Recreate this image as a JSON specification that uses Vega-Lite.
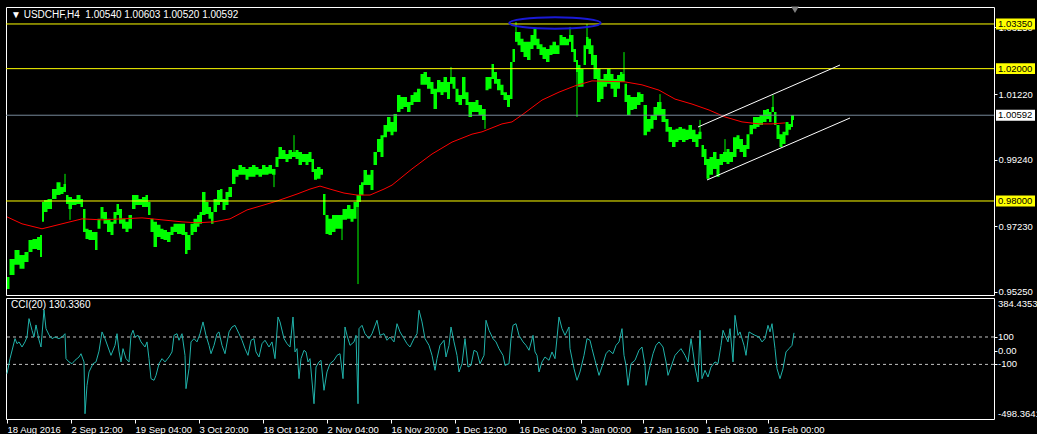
{
"$schema": "https://vega.github.io/schema/vega-lite/v6.json",
"background": "#000000",
"padding": {"left": 4, "top": 5, "right": 0, "bottom": 0},
"spacing": 3,
"bounds": "flush",
"config": {
  "view": {"stroke": "#ffffff", "strokeWidth": 1, "fill": "#000000"},
  "font": "Liberation Sans",
  "axis": {"labelFont": "Liberation Sans", "labelFontSize": 9.5, "labelColor": "#ffffff", "tickColor": "#ffffff", "domain": false, "grid": false, "title": null, "labelOverlap": false}
},
"resolve": {"scale": {"x": "independent", "y": "independent"}},
"datasets": {
"price": [
{"i":1,"lo":0.9534,"hi":0.9570},{"i":6,"lo":0.9576,"hi":0.9625},{"i":11,"lo":0.9607,"hi":0.9652},{"i":16,"lo":0.9595,"hi":0.9637},{"i":21,"lo":0.9616,"hi":0.9646},{"i":24,"lo":0.9646,"hi":0.9682},{"i":29,"lo":0.9655,"hi":0.9685},{"i":33,"lo":0.9652,"hi":0.9691},{"i":35,"lo":0.9631,"hi":0.9697},{"i":37,"lo":0.9737,"hi":0.9797},{"i":39,"lo":0.9767,"hi":0.9803},{"i":44,"lo":0.9776,"hi":0.9806},{"i":48,"lo":0.9806,"hi":0.9836},{"i":53,"lo":0.9818,"hi":0.9857},{"i":56,"lo":0.9821,"hi":0.9842},{"i":59,"lo":0.9827,"hi":0.9851},{"i":61,"lo":0.9791,"hi":0.9818},{"i":64,"lo":0.9776,"hi":0.9812},{"i":68,"lo":0.9788,"hi":0.9806},{"i":73,"lo":0.9791,"hi":0.9818},{"i":76,"lo":0.9782,"hi":0.9806},{"i":78,"lo":0.9706,"hi":0.9776},{"i":81,"lo":0.9685,"hi":0.9716},{"i":84,"lo":0.9682,"hi":0.9712},{"i":88,"lo":0.9682,"hi":0.9706},{"i":90,"lo":0.9652,"hi":0.9706},{"i":93,"lo":0.9716,"hi":0.9746},{"i":96,"lo":0.9746,"hi":0.9782},{"i":99,"lo":0.9731,"hi":0.9767},{"i":103,"lo":0.9706,"hi":0.9746},{"i":106,"lo":0.9697,"hi":0.9737},{"i":109,"lo":0.9731,"hi":0.9767},{"i":112,"lo":0.9758,"hi":0.9791},{"i":114,"lo":0.9731,"hi":0.9776},{"i":118,"lo":0.9716,"hi":0.9746},{"i":121,"lo":0.9706,"hi":0.9737},{"i":124,"lo":0.9716,"hi":0.9758},{"i":128,"lo":0.9776,"hi":0.9818},{"i":131,"lo":0.9788,"hi":0.9818},{"i":134,"lo":0.9788,"hi":0.9806},{"i":138,"lo":0.9782,"hi":0.9812},{"i":141,"lo":0.9782,"hi":0.9818},{"i":143,"lo":0.9758,"hi":0.9797},{"i":146,"lo":0.9706,"hi":0.9746},{"i":149,"lo":0.9661,"hi":0.9737},{"i":153,"lo":0.9691,"hi":0.9728},{"i":156,"lo":0.9685,"hi":0.9716},{"i":159,"lo":0.9682,"hi":0.9712},{"i":163,"lo":0.9676,"hi":0.9706},{"i":166,"lo":0.9697,"hi":0.9722},{"i":169,"lo":0.9706,"hi":0.9731},{"i":173,"lo":0.9700,"hi":0.9731},{"i":178,"lo":0.9697,"hi":0.9731},{"i":180,"lo":0.9640,"hi":0.9706},{"i":183,"lo":0.9652,"hi":0.9697},{"i":186,"lo":0.9697,"hi":0.9731},{"i":189,"lo":0.9706,"hi":0.9746},{"i":193,"lo":0.9722,"hi":0.9758},{"i":194,"lo":0.9731,"hi":0.9767},{"i":198,"lo":0.9758,"hi":0.9827},{"i":201,"lo":0.9761,"hi":0.9797},{"i":204,"lo":0.9746,"hi":0.9782},{"i":206,"lo":0.9731,"hi":0.9767},{"i":209,"lo":0.9767,"hi":0.9806},{"i":213,"lo":0.9788,"hi":0.9833},{"i":215,"lo":0.9797,"hi":0.9836},{"i":218,"lo":0.9773,"hi":0.9806},{"i":221,"lo":0.9788,"hi":0.9827},{"i":224,"lo":0.9812,"hi":0.9842},{"i":228,"lo":0.9851,"hi":0.9897},{"i":231,"lo":0.9873,"hi":0.9894},{"i":234,"lo":0.9879,"hi":0.9909},{"i":238,"lo":0.9879,"hi":0.9903},{"i":241,"lo":0.9864,"hi":0.9897},{"i":244,"lo":0.9873,"hi":0.9903},{"i":248,"lo":0.9873,"hi":0.9909},{"i":251,"lo":0.9879,"hi":0.9903},{"i":254,"lo":0.9873,"hi":0.9897},{"i":258,"lo":0.9879,"hi":0.9909},{"i":261,"lo":0.9879,"hi":0.9903},{"i":264,"lo":0.9882,"hi":0.9909},{"i":268,"lo":0.9879,"hi":0.9897},{"i":271,"lo":0.9903,"hi":0.9933},{"i":274,"lo":0.9927,"hi":0.9963},{"i":278,"lo":0.9927,"hi":0.9954},{"i":281,"lo":0.9918,"hi":0.9942},{"i":284,"lo":0.9927,"hi":0.9954},{"i":288,"lo":0.9933,"hi":0.9948},{"i":291,"lo":0.9927,"hi":0.9954},{"i":294,"lo":0.9909,"hi":0.9948},{"i":298,"lo":0.9918,"hi":0.9942},{"i":301,"lo":0.9909,"hi":0.9942},{"i":304,"lo":0.9918,"hi":0.9948},{"i":307,"lo":0.9888,"hi":0.9927},{"i":309,"lo":0.9864,"hi":0.9897},{"i":313,"lo":0.9867,"hi":0.9903},{"i":316,"lo":0.9879,"hi":0.9897},{"i":318,"lo":0.9758,"hi":0.9821},{"i":321,"lo":0.9700,"hi":0.9758},{"i":324,"lo":0.9697,"hi":0.9746},{"i":328,"lo":0.9706,"hi":0.9758},{"i":331,"lo":0.9716,"hi":0.9758},{"i":334,"lo":0.9716,"hi":0.9758},{"i":339,"lo":0.9743,"hi":0.9776},{"i":343,"lo":0.9746,"hi":0.9788},{"i":346,"lo":0.9737,"hi":0.9776},{"i":349,"lo":0.9746,"hi":0.9797},{"i":352,"lo":0.9782,"hi":0.9818},{"i":354,"lo":0.9797,"hi":0.9848},{"i":356,"lo":0.9818,"hi":0.9857},{"i":359,"lo":0.9848,"hi":0.9894},{"i":363,"lo":0.9848,"hi":0.9879},{"i":366,"lo":0.9833,"hi":0.9894},{"i":369,"lo":0.9909,"hi":0.9948},{"i":373,"lo":0.9948,"hi":0.9987},{"i":376,"lo":0.9933,"hi":0.9999},{"i":379,"lo":0.9993,"hi":1.0030},{"i":383,"lo":1.0009,"hi":1.0054},{"i":386,"lo":0.9999,"hi":1.0039},{"i":389,"lo":1.0009,"hi":1.0063},{"i":393,"lo":1.0069,"hi":1.0120},{"i":396,"lo":1.0078,"hi":1.0114},{"i":399,"lo":1.0084,"hi":1.0114},{"i":403,"lo":1.0069,"hi":1.0099},{"i":406,"lo":1.0090,"hi":1.0120},{"i":409,"lo":1.0099,"hi":1.0129},{"i":413,"lo":1.0099,"hi":1.0139},{"i":416,"lo":1.0151,"hi":1.0184},{"i":419,"lo":1.0151,"hi":1.0190},{"i":423,"lo":1.0139,"hi":1.0175},{"i":426,"lo":1.0123,"hi":1.0160},{"i":429,"lo":1.0078,"hi":1.0139},{"i":433,"lo":1.0129,"hi":1.0166},{"i":436,"lo":1.0120,"hi":1.0160},{"i":439,"lo":1.0129,"hi":1.0175},{"i":443,"lo":1.0108,"hi":1.0160},{"i":445,"lo":1.0154,"hi":1.0175},{"i":448,"lo":1.0139,"hi":1.0175},{"i":451,"lo":1.0099,"hi":1.0139},{"i":454,"lo":1.0090,"hi":1.0120},{"i":458,"lo":1.0108,"hi":1.0175},{"i":461,"lo":1.0090,"hi":1.0129},{"i":464,"lo":1.0054,"hi":1.0099},{"i":468,"lo":1.0069,"hi":1.0099},{"i":471,"lo":1.0069,"hi":1.0105},{"i":474,"lo":1.0060,"hi":1.0090},{"i":478,"lo":1.0045,"hi":1.0078},{"i":481,"lo":1.0135,"hi":1.0175},{"i":484,"lo":1.0139,"hi":1.0175},{"i":487,"lo":1.0169,"hi":1.0214},{"i":489,"lo":1.0154,"hi":1.0190},{"i":493,"lo":1.0135,"hi":1.0169},{"i":496,"lo":1.0120,"hi":1.0151},{"i":499,"lo":1.0105,"hi":1.0129},{"i":503,"lo":1.0084,"hi":1.0120},{"i":505,"lo":1.0108,"hi":1.0220},{"i":508,"lo":1.0220,"hi":1.0259},{"i":510,"lo":1.0281,"hi":1.0311},{"i":513,"lo":1.0271,"hi":1.0311},{"i":516,"lo":1.0250,"hi":1.0290},{"i":519,"lo":1.0235,"hi":1.0281},{"i":523,"lo":1.0226,"hi":1.0281},{"i":526,"lo":1.0259,"hi":1.0302},{"i":529,"lo":1.0271,"hi":1.0320},{"i":532,"lo":1.0259,"hi":1.0290},{"i":535,"lo":1.0241,"hi":1.0274},{"i":538,"lo":1.0229,"hi":1.0265},{"i":542,"lo":1.0220,"hi":1.0259},{"i":545,"lo":1.0241,"hi":1.0271},{"i":548,"lo":1.0244,"hi":1.0281},{"i":552,"lo":1.0244,"hi":1.0271},{"i":555,"lo":1.0271,"hi":1.0302},{"i":558,"lo":1.0271,"hi":1.0296},{"i":562,"lo":1.0271,"hi":1.0290},{"i":564,"lo":1.0281,"hi":1.0302},{"i":566,"lo":1.0250,"hi":1.0302},{"i":569,"lo":1.0220,"hi":1.0259},{"i":571,"lo":1.0190,"hi":1.0226},{"i":573,"lo":1.0145,"hi":1.0211},{"i":576,"lo":1.0145,"hi":1.0199},{"i":579,"lo":1.0211,"hi":1.0271},{"i":581,"lo":1.0259,"hi":1.0296},{"i":584,"lo":1.0244,"hi":1.0290},{"i":586,"lo":1.0211,"hi":1.0271},{"i":589,"lo":1.0169,"hi":1.0241},{"i":593,"lo":1.0099,"hi":1.0199},{"i":596,"lo":1.0108,"hi":1.0169},{"i":599,"lo":1.0145,"hi":1.0184},{"i":603,"lo":1.0154,"hi":1.0199},{"i":606,"lo":1.0139,"hi":1.0184},{"i":609,"lo":1.0114,"hi":1.0169},{"i":613,"lo":1.0139,"hi":1.0181},{"i":615,"lo":1.0160,"hi":1.0190},{"i":618,"lo":1.0160,"hi":1.0184},{"i":619,"lo":1.0099,"hi":1.0154},{"i":623,"lo":1.0060,"hi":1.0120},{"i":626,"lo":1.0075,"hi":1.0114},{"i":629,"lo":1.0078,"hi":1.0114},{"i":633,"lo":1.0090,"hi":1.0129},{"i":636,"lo":1.0099,"hi":1.0123},{"i":639,"lo":0.9999,"hi":1.0090},{"i":643,"lo":1.0009,"hi":1.0048},{"i":646,"lo":1.0018,"hi":1.0060},{"i":649,"lo":1.0045,"hi":1.0084},{"i":653,"lo":1.0060,"hi":1.0099},{"i":658,"lo":1.0039,"hi":1.0078},{"i":661,"lo":1.0009,"hi":1.0048},{"i":664,"lo":0.9978,"hi":1.0024},{"i":668,"lo":0.9963,"hi":1.0015},{"i":671,"lo":0.9978,"hi":1.0018},{"i":674,"lo":0.9984,"hi":1.0024},{"i":678,"lo":0.9978,"hi":1.0018},{"i":681,"lo":0.9984,"hi":1.0015},{"i":684,"lo":0.9987,"hi":1.0030},{"i":688,"lo":0.9978,"hi":1.0015},{"i":691,"lo":0.9963,"hi":1.0002},{"i":694,"lo":0.9987,"hi":1.0009},{"i":697,"lo":0.9933,"hi":0.9969},{"i":699,"lo":0.9909,"hi":0.9957},{"i":702,"lo":0.9867,"hi":0.9927},{"i":705,"lo":0.9879,"hi":0.9933},{"i":709,"lo":0.9897,"hi":0.9948},{"i":712,"lo":0.9873,"hi":0.9927},{"i":715,"lo":0.9909,"hi":0.9942},{"i":719,"lo":0.9918,"hi":0.9948},{"i":722,"lo":0.9912,"hi":0.9957},{"i":725,"lo":0.9918,"hi":0.9948},{"i":729,"lo":0.9933,"hi":0.9993},{"i":732,"lo":0.9957,"hi":0.9999},{"i":735,"lo":0.9948,"hi":0.9987},{"i":739,"lo":0.9933,"hi":0.9969},{"i":742,"lo":0.9957,"hi":1.0002},{"i":745,"lo":1.0002,"hi":1.0030},{"i":749,"lo":1.0018,"hi":1.0054},{"i":752,"lo":1.0024,"hi":1.0054},{"i":755,"lo":1.0030,"hi":1.0060},{"i":759,"lo":1.0039,"hi":1.0075},{"i":762,"lo":1.0048,"hi":1.0078},{"i":764,"lo":1.0039,"hi":1.0069},{"i":767,"lo":1.0069,"hi":1.0084},{"i":769,"lo":1.0030,"hi":1.0069},{"i":772,"lo":0.9987,"hi":1.0030},{"i":775,"lo":0.9963,"hi":1.0002},{"i":778,"lo":0.9972,"hi":1.0009},{"i":781,"lo":0.9999,"hi":1.0039},{"i":784,"lo":1.0015,"hi":1.0033},{"i":786,"lo":1.0024,"hi":1.0060},{"i":788,"lo":1.0045,"hi":1.0060}
],
"wick": [
{"i":59,"lo":0.9827,"hi":0.9882},{"i":64,"lo":0.9743,"hi":0.9812},{"i":268,"lo":0.9842,"hi":0.9897},{"i":288,"lo":0.9933,"hi":0.9999},{"i":336,"lo":0.9682,"hi":0.9758},{"i":352,"lo":0.9549,"hi":0.9818},{"i":445,"lo":1.0154,"hi":1.0205},{"i":479,"lo":1.0018,"hi":1.0078},{"i":510,"lo":1.0281,"hi":1.0341},{"i":564,"lo":1.0281,"hi":1.0326},{"i":571,"lo":1.0054,"hi":1.0226},{"i":581,"lo":1.0259,"hi":1.0335},{"i":618,"lo":1.0160,"hi":1.0250},{"i":654,"lo":1.0060,"hi":1.0123},{"i":694,"lo":0.9987,"hi":1.0045},{"i":719,"lo":0.9918,"hi":0.9987},{"i":767,"lo":1.0069,"hi":1.0120}
],
"ma": [
{"i":1,"ma":0.9752},{"i":16,"ma":0.9731},{"i":36,"ma":0.9716},{"i":56,"ma":0.9731},{"i":76,"ma":0.9746},{"i":96,"ma":0.9743},{"i":116,"ma":0.9746},{"i":136,"ma":0.9749},{"i":156,"ma":0.9743},{"i":176,"ma":0.9737},{"i":191,"ma":0.9734},{"i":208,"ma":0.9737},{"i":224,"ma":0.9746},{"i":241,"ma":0.9773},{"i":258,"ma":0.9788},{"i":271,"ma":0.9800},{"i":291,"ma":0.9821},{"i":304,"ma":0.9836},{"i":314,"ma":0.9845},{"i":324,"ma":0.9836},{"i":338,"ma":0.9824},{"i":351,"ma":0.9818},{"i":364,"ma":0.9818},{"i":378,"ma":0.9836},{"i":386,"ma":0.9848},{"i":406,"ma":0.9897},{"i":426,"ma":0.9942},{"i":446,"ma":0.9978},{"i":466,"ma":1.0002},{"i":476,"ma":1.0009},{"i":496,"ma":1.0033},{"i":506,"ma":1.0039},{"i":516,"ma":1.0060},{"i":536,"ma":1.0105},{"i":553,"ma":1.0129},{"i":569,"ma":1.0148},{"i":586,"ma":1.0163},{"i":619,"ma":1.0160},{"i":636,"ma":1.0151},{"i":653,"ma":1.0135},{"i":669,"ma":1.0108},{"i":686,"ma":1.0093},{"i":703,"ma":1.0075},{"i":719,"ma":1.0054},{"i":736,"ma":1.0039},{"i":753,"ma":1.0033},{"i":766,"ma":1.0033},{"i":779,"ma":1.0036}
],
"levels": [
{"p":1.0335,"k":"level","t":"1.03350"},{"p":1.02,"k":"level","t":"1.02000"},{"p":0.98,"k":"level","t":"0.98000"},{"p":1.00592,"k":"bid","t":"1.00592"}
],
"channel": [
{"ch":"upper","i":692,"p":1.00236},{"ch":"upper","i":834,"p":1.0211},{"ch":"lower","i":701,"p":0.98635},{"ch":"lower","i":844,"p":1.00508}
],
"ellipse": [{"i":549,"p":1.0338}],
"shift": [{"i":789,"p":1.0378}],
"header": [{"i":5,"p":1.0362,"t":"▼ USDCHF,H4\u00a0\u00a01.00540 1.00603 1.00520 1.00592"}],
"ccilabel": [{"i":5,"v":334,"t":"CCI(20) 130.3360"}],
"ccilevels": [{"v":100},{"v":-100}],
"ccimid": [{"v":100,"t":"100"},{"v":0,"t":"0.00"},{"v":-100,"t":"-100"}],
"ccitop": [{"v":384.4353,"t":"384.4353"}],
"ccibot": [{"v":-498.3641,"t":"-498.3641"}],
"cci": [
{"i":1,"v":-168},{"i":4,"v":-58},{"i":9,"v":88},{"i":11,"v":51},{"i":13,"v":64},{"i":16,"v":27},{"i":19,"v":64},{"i":21,"v":100},{"i":23,"v":234},{"i":26,"v":149},{"i":28,"v":100},{"i":30,"v":188},{"i":33,"v":78},{"i":35,"v":27},{"i":38,"v":297},{"i":40,"v":161},{"i":43,"v":115},{"i":46,"v":88},{"i":49,"v":100},{"i":53,"v":88},{"i":56,"v":100},{"i":59,"v":124},{"i":60,"v":-58},{"i":63,"v":-82},{"i":66,"v":-95},{"i":69,"v":-70},{"i":73,"v":-46},{"i":75,"v":-22},{"i":78,"v":-82},{"i":79,"v":-460},{"i":81,"v":-253},{"i":83,"v":-155},{"i":87,"v":-95},{"i":90,"v":-82},{"i":93,"v":-3},{"i":96,"v":137},{"i":99,"v":88},{"i":102,"v":27},{"i":105,"v":-34},{"i":109,"v":39},{"i":111,"v":124},{"i":113,"v":-3},{"i":115,"v":-82},{"i":117,"v":15},{"i":120,"v":-58},{"i":123,"v":-82},{"i":125,"v":112},{"i":127,"v":149},{"i":129,"v":100},{"i":132,"v":112},{"i":135,"v":64},{"i":139,"v":27},{"i":141,"v":64},{"i":143,"v":-58},{"i":145,"v":-204},{"i":148,"v":-216},{"i":150,"v":-180},{"i":153,"v":-95},{"i":156,"v":-58},{"i":159,"v":-82},{"i":163,"v":-46},{"i":166,"v":-9},{"i":168,"v":112},{"i":171,"v":124},{"i":173,"v":76},{"i":176,"v":124},{"i":179,"v":-34},{"i":180,"v":-277},{"i":183,"v":-131},{"i":185,"v":64},{"i":188,"v":88},{"i":191,"v":64},{"i":194,"v":124},{"i":197,"v":210},{"i":200,"v":112},{"i":203,"v":39},{"i":205,"v":-22},{"i":208,"v":39},{"i":211,"v":124},{"i":213,"v":137},{"i":216,"v":39},{"i":219,"v":-22},{"i":223,"v":137},{"i":226,"v":173},{"i":229,"v":185},{"i":233,"v":124},{"i":236,"v":76},{"i":239,"v":15},{"i":242,"v":-34},{"i":245,"v":76},{"i":248,"v":88},{"i":250,"v":-9},{"i":253,"v":-46},{"i":256,"v":51},{"i":259,"v":76},{"i":263,"v":27},{"i":266,"v":64},{"i":269,"v":-58},{"i":272,"v":246},{"i":274,"v":210},{"i":278,"v":88},{"i":281,"v":51},{"i":284,"v":27},{"i":287,"v":246},{"i":289,"v":-9},{"i":291,"v":15},{"i":293,"v":-204},{"i":295,"v":-58},{"i":298,"v":3},{"i":300,"v":-9},{"i":302,"v":-82},{"i":304,"v":-58},{"i":308,"v":-387},{"i":310,"v":-119},{"i":313,"v":-82},{"i":315,"v":-70},{"i":318,"v":-289},{"i":321,"v":-155},{"i":324,"v":-95},{"i":328,"v":-70},{"i":331,"v":-34},{"i":334,"v":-22},{"i":337,"v":-204},{"i":339,"v":173},{"i":341,"v":112},{"i":344,"v":39},{"i":348,"v":64},{"i":350,"v":112},{"i":352,"v":-387},{"i":353,"v":161},{"i":356,"v":185},{"i":359,"v":124},{"i":363,"v":88},{"i":366,"v":124},{"i":371,"v":222},{"i":374,"v":112},{"i":378,"v":124},{"i":381,"v":76},{"i":384,"v":100},{"i":388,"v":64},{"i":391,"v":197},{"i":394,"v":137},{"i":398,"v":88},{"i":401,"v":51},{"i":404,"v":27},{"i":408,"v":88},{"i":411,"v":124},{"i":413,"v":295},{"i":416,"v":210},{"i":419,"v":88},{"i":423,"v":39},{"i":426,"v":-34},{"i":429,"v":-143},{"i":431,"v":-58},{"i":434,"v":39},{"i":438,"v":76},{"i":440,"v":-46},{"i":443,"v":39},{"i":445,"v":173},{"i":448,"v":64},{"i":451,"v":-34},{"i":453,"v":-155},{"i":456,"v":-95},{"i":459,"v":88},{"i":462,"v":-119},{"i":465,"v":-107},{"i":468,"v":3},{"i":471,"v":-9},{"i":474,"v":-95},{"i":478,"v":-34},{"i":480,"v":222},{"i":483,"v":149},{"i":487,"v":88},{"i":490,"v":64},{"i":493,"v":15},{"i":497,"v":-34},{"i":499,"v":-107},{"i":503,"v":-95},{"i":505,"v":88},{"i":507,"v":185},{"i":510,"v":197},{"i":513,"v":112},{"i":517,"v":64},{"i":520,"v":39},{"i":523,"v":3},{"i":527,"v":112},{"i":529,"v":-9},{"i":531,"v":-34},{"i":533,"v":-155},{"i":536,"v":-82},{"i":539,"v":-46},{"i":543,"v":-70},{"i":546,"v":-9},{"i":549,"v":-58},{"i":553,"v":246},{"i":556,"v":161},{"i":559,"v":112},{"i":563,"v":173},{"i":564,"v":15},{"i":568,"v":-131},{"i":571,"v":-216},{"i":574,"v":-155},{"i":578,"v":-34},{"i":581,"v":88},{"i":584,"v":76},{"i":586,"v":15},{"i":589,"v":-70},{"i":593,"v":-180},{"i":597,"v":-95},{"i":600,"v":-22},{"i":603,"v":3},{"i":607,"v":-22},{"i":610,"v":39},{"i":613,"v":64},{"i":616,"v":161},{"i":618,"v":-34},{"i":620,"v":-107},{"i":622,"v":-253},{"i":625,"v":-95},{"i":629,"v":-70},{"i":633,"v":3},{"i":636,"v":27},{"i":639,"v":-107},{"i":640,"v":-253},{"i":643,"v":-143},{"i":647,"v":-22},{"i":650,"v":39},{"i":653,"v":64},{"i":657,"v":27},{"i":660,"v":-82},{"i":662,"v":-180},{"i":665,"v":-119},{"i":669,"v":-34},{"i":672,"v":-9},{"i":675,"v":15},{"i":679,"v":-34},{"i":682,"v":-82},{"i":685,"v":88},{"i":687,"v":-9},{"i":689,"v":-119},{"i":692,"v":-228},{"i":694,"v":149},{"i":696,"v":-204},{"i":699,"v":-143},{"i":702,"v":-192},{"i":705,"v":-119},{"i":709,"v":-82},{"i":712,"v":-95},{"i":715,"v":39},{"i":717,"v":149},{"i":719,"v":112},{"i":722,"v":64},{"i":724,"v":161},{"i":727,"v":-82},{"i":729,"v":258},{"i":732,"v":112},{"i":734,"v":137},{"i":738,"v":39},{"i":740,"v":-34},{"i":743,"v":137},{"i":746,"v":124},{"i":749,"v":112},{"i":753,"v":100},{"i":756,"v":64},{"i":759,"v":88},{"i":762,"v":185},{"i":764,"v":137},{"i":766,"v":197},{"i":769,"v":15},{"i":771,"v":-131},{"i":774,"v":-204},{"i":777,"v":-131},{"i":780,"v":-9},{"i":783,"v":15},{"i":786,"v":39},{"i":788,"v":130}
]
},
"vconcat": [
{
  "width": 988,
  "height": 288,
  "resolve": {"scale": {"color": "independent"}},
  "layer": [
    {
      "data": {"name": "price"},
      "mark": {"type": "area", "color": "#00ff00", "opacity": 1, "interpolate": "step"},
      "encoding": {
        "x": {"field": "i", "type": "quantitative", "scale": {"domain": [0, 988], "nice": false, "zero": false}, "axis": null},
        "y": {"field": "lo", "type": "quantitative", "scale": {"domain": [0.95159, 1.03863], "nice": false, "zero": false},
              "axis": {"orient": "right", "values": [1.0325, 1.0221, 1.0122, 1.0023, 0.9924, 0.9822, 0.9723, 0.9624, 0.9525], "format": ".5f", "tickSize": 3, "labelPadding": 1, "labelOverlap": false}},
        "y2": {"field": "hi"}
      }
    },
    {
      "data": {"name": "wick"},
      "mark": {"type": "rule", "color": "#00ff00", "strokeWidth": 1},
      "encoding": {
        "x": {"field": "i", "type": "quantitative", "axis": null},
        "y": {"field": "lo", "type": "quantitative"},
        "y2": {"field": "hi"}
      }
    },
    {
      "data": {"name": "ma"},
      "mark": {"type": "line", "color": "#ff0000", "strokeWidth": 1},
      "encoding": {
        "x": {"field": "i", "type": "quantitative", "axis": null},
        "y": {"field": "ma", "type": "quantitative"}
      }
    },
    {
      "data": {"name": "levels"},
      "mark": {"type": "rule", "strokeWidth": 1},
      "encoding": {
        "y": {"field": "p", "type": "quantitative"},
        "color": {"field": "k", "type": "nominal", "scale": {"domain": ["level", "bid"], "range": ["#ffff00", "#778899"]}, "legend": null}
      }
    },
    {
      "data": {"name": "channel"},
      "mark": {"type": "line", "color": "#ffffff", "strokeWidth": 1},
      "encoding": {
        "x": {"field": "i", "type": "quantitative", "axis": null},
        "y": {"field": "p", "type": "quantitative"},
        "detail": {"field": "ch"}
      }
    },
    {
      "data": {"name": "ellipse"},
      "mark": {"type": "point", "filled": false, "stroke": "#1a1ad6", "strokeWidth": 2, "opacity": 1,
               "shape": "M -1 0 C -1 -0.069 -0.5523 -0.125 0 -0.125 C 0.5523 -0.125 1 -0.069 1 0 C 1 0.069 0.5523 0.125 0 0.125 C -0.5523 0.125 -1 0.069 -1 0 Z",
               "size": 8372},
      "encoding": {
        "x": {"field": "i", "type": "quantitative", "axis": null},
        "y": {"field": "p", "type": "quantitative"}
      }
    },
    {
      "data": {"name": "shift"},
      "mark": {"type": "point", "shape": "triangle-down", "filled": true, "color": "#808080", "size": 60, "opacity": 1},
      "encoding": {
        "x": {"field": "i", "type": "quantitative", "axis": null},
        "y": {"field": "p", "type": "quantitative"}
      }
    },
    {
      "data": {"name": "levels"},
      "mark": {"type": "point", "filled": true, "opacity": 1, "shape": "M -1 -0.28 L 1 -0.28 L 1 0.28 L -1 0.28 Z", "size": 1521},
      "encoding": {
        "x": {"datum": 1009.5, "type": "quantitative", "axis": null},
        "y": {"field": "p", "type": "quantitative"},
        "fill": {"field": "t", "type": "nominal", "scale": {"domain": ["1.03350", "1.02000", "0.98000", "1.00592"], "range": ["#ffff00", "#ffff00", "#ffff00", "#ffffff"]}, "legend": null}
      }
    },
    {
      "data": {"name": "levels"},
      "mark": {"type": "text", "align": "left", "baseline": "middle", "fontSize": 9.5, "font": "Liberation Sans", "color": "#000000"},
      "encoding": {
        "x": {"datum": 992, "type": "quantitative", "axis": null},
        "y": {"field": "p", "type": "quantitative"},
        "text": {"field": "t"}
      }
    },
    {
      "data": {"name": "header"},
      "mark": {"type": "text", "align": "left", "baseline": "middle", "fontSize": 10, "font": "Liberation Sans", "color": "#ffffff"},
      "encoding": {
        "x": {"field": "i", "type": "quantitative", "axis": null},
        "y": {"field": "p", "type": "quantitative"},
        "text": {"field": "t"}
      }
    }
  ]
},
{
  "width": 988,
  "height": 121,
  "layer": [
    {
      "data": {"name": "ccilevels"},
      "mark": {"type": "rule", "color": "#c0c0c0", "strokeWidth": 1, "strokeDash": [3, 3]},
      "encoding": {
        "y": {"field": "v", "type": "quantitative", "scale": {"domain": [-498.3641, 384.4353], "nice": false, "zero": false},
              "axis": {"orient": "right", "values": [100, 0, -100], "labels": false, "tickSize": 3}}
      }
    },
    {
      "data": {"name": "cci"},
      "mark": {"type": "line", "color": "#20b2aa", "strokeWidth": 1},
      "encoding": {
        "x": {"field": "i", "type": "quantitative", "scale": {"domain": [0, 988], "nice": false, "zero": false},
              "axis": {"orient": "bottom", "values": [1, 65, 129, 193, 257, 321, 385, 449, 513, 575, 637, 700, 762],
                       "labelExpr": "['18 Aug 2016','2 Sep 12:00','19 Sep 04:00','3 Oct 20:00','18 Oct 12:00','2 Nov 04:00','16 Nov 20:00','1 Dec 12:00','16 Dec 04:00','3 Jan 00:00','17 Jan 16:00','1 Feb 08:00','16 Feb 00:00'][indexof([1,65,129,193,257,321,385,449,513,575,637,700,762], datum.value)]",
                       "labelAlign": "left", "labelFlush": false, "labelBound": false, "labelOverlap": false, "tickSize": 4, "labelPadding": 1}},
        "y": {"field": "v", "type": "quantitative"}
      }
    },
    {
      "data": {"name": "ccimid"},
      "mark": {"type": "text", "align": "left", "baseline": "middle", "fontSize": 9.5, "font": "Liberation Sans", "color": "#ffffff"},
      "encoding": {
        "x": {"datum": 992, "type": "quantitative"},
        "y": {"field": "v", "type": "quantitative"},
        "text": {"field": "t"}
      }
    },
    {
      "data": {"name": "ccitop"},
      "mark": {"type": "text", "align": "left", "baseline": "top", "dy": 1, "fontSize": 9.5, "font": "Liberation Sans", "color": "#ffffff"},
      "encoding": {
        "x": {"datum": 992, "type": "quantitative"},
        "y": {"field": "v", "type": "quantitative"},
        "text": {"field": "t"}
      }
    },
    {
      "data": {"name": "ccibot"},
      "mark": {"type": "text", "align": "left", "baseline": "bottom", "fontSize": 9.5, "font": "Liberation Sans", "color": "#ffffff"},
      "encoding": {
        "x": {"datum": 992, "type": "quantitative"},
        "y": {"field": "v", "type": "quantitative"},
        "text": {"field": "t"}
      }
    },
    {
      "data": {"name": "ccilabel"},
      "mark": {"type": "text", "align": "left", "baseline": "middle", "fontSize": 10, "font": "Liberation Sans", "color": "#ffffff"},
      "encoding": {
        "x": {"field": "i", "type": "quantitative"},
        "y": {"field": "v", "type": "quantitative"},
        "text": {"field": "t"}
      }
    }
  ]
}
]
}
